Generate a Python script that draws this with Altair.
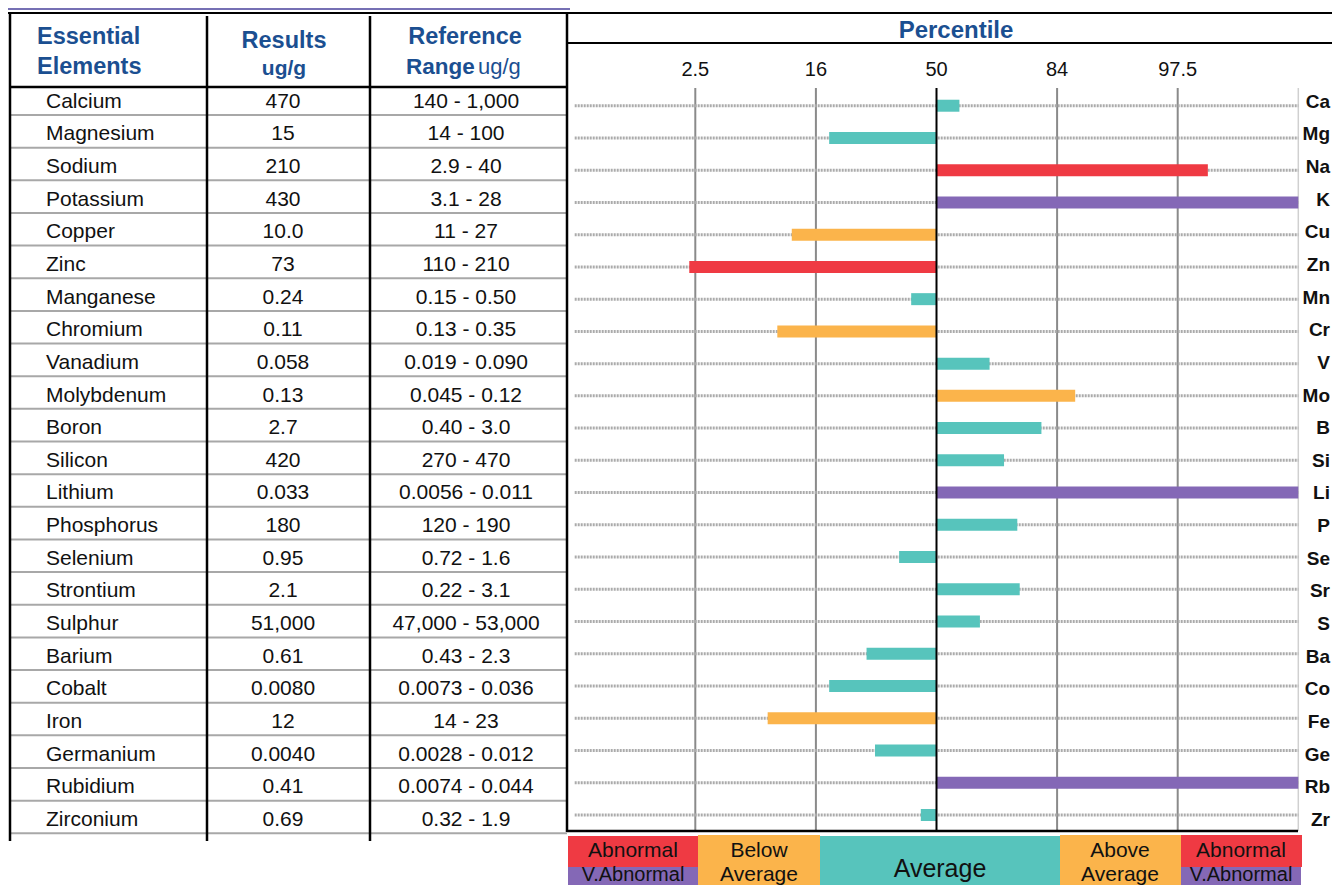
import altair as alt
import pandas as pd

# ---------------- data ----------------
elements = ["Calcium", "Magnesium", "Sodium", "Potassium", "Copper", "Zinc",
            "Manganese", "Chromium", "Vanadium", "Molybdenum", "Boron", "Silicon",
            "Lithium", "Phosphorus", "Selenium", "Strontium", "Sulphur", "Barium",
            "Cobalt", "Iron", "Germanium", "Rubidium", "Zirconium"]
symbols = ["Ca", "Mg", "Na", "K", "Cu", "Zn", "Mn", "Cr", "V", "Mo", "B", "Si",
           "Li", "P", "Se", "Sr", "S", "Ba", "Co", "Fe", "Ge", "Rb", "Zr"]
results = ["470", "15", "210", "430", "10.0", "73", "0.24", "0.11", "0.058", "0.13",
           "2.7", "420", "0.033", "180", "0.95", "2.1", "51,000", "0.61", "0.0080",
           "12", "0.0040", "0.41", "0.69"]
ref_ranges = ["140 - 1,000", "14 - 100", "2.9 - 40", "3.1 - 28", "11 - 27", "110 - 210",
              "0.15 - 0.50", "0.13 - 0.35", "0.019 - 0.090", "0.045 - 0.12", "0.40 - 3.0",
              "270 - 470", "0.0056 - 0.011", "120 - 190", "0.72 - 1.6", "0.22 - 3.1",
              "47,000 - 53,000", "0.43 - 2.3", "0.0073 - 0.036", "14 - 23",
              "0.0028 - 0.012", "0.0074 - 0.044", "0.32 - 1.9"]
# bar end, in standard deviations from the 50th percentile (axis: 2.5/16/50/84/97.5)
percentile_sd = [0.19, -0.89, 2.25, 3.0, -1.20, -2.05, -0.21, -1.32, 0.44, 1.15,
                 0.87, 0.56, 3.0, 0.67, -0.31, 0.69, 0.36, -0.58, -0.89, -1.40,
                 -0.51, 3.0, -0.13]
tick_sd = [-2, -1, 0, 1, 2]
tick_labels = ["2.5", "16", "50", "84", "97.5"]
status_names = ["Average", "Outside", "Abnormal", "V.Abnormal"]
status_colors = ["#57C4BC", "#FBB44B", "#EF3A43", "#8468B6"]

HEAD_ELEM = ["Essential", "Elements"]
HEAD_RES = ["Results", "ug/g"]
HEAD_REF = ["Reference", "Range", "ug/g"]
HEAD_PCT = "Percentile"
LEGEND = [("Abnormal", "V.Abnormal"), ("Below", "Average"), ("Average",),
          ("Above", "Average"), ("Abnormal", "V.Abnormal")]


def status(v):
    a = abs(v)
    if a >= 3:
        return "V.Abnormal"
    if a >= 2:
        return "Abnormal"
    if a >= 1:
        return "Outside"
    return "Average"


df = pd.DataFrame({"element": elements, "symbol": symbols, "result": results,
                   "ref": ref_ranges, "sd": percentile_sd,
                   "status": [status(v) for v in percentile_sd]})
ticks = pd.DataFrame({"sd": tick_sd, "label": tick_labels})
dummy = pd.DataFrame({"a": [0]})

# ---------------- styling ----------------
FONT = "Liberation Sans"
BLUE = "#1B4F91"
PURPLE_BAR = "#7670B4"
W, H = 1324, 877

XS = alt.Scale(domain=[-3, 3], range=[566.7, 1290.3])
YT = alt.Scale(domain=elements, range=[74.35, 825.3], paddingInner=0, paddingOuter=0)
YB = alt.Scale(domain=elements, range=[81.6, 823.1], paddingInner=0, paddingOuter=0)
CS = alt.Scale(domain=status_names, range=status_colors)


def seg(x1, x2, y1, y2, color="#000", w=2.0):
    return alt.Chart(dummy).mark_rule(color=color, strokeWidth=w).encode(
        x=alt.value(x1), x2=alt.value(x2), y=alt.value(y1), y2=alt.value(y2))


def box(x1, x2, y1, y2, color):
    return alt.Chart(dummy).mark_rect(color=color).encode(
        x=alt.value(x1), x2=alt.value(x2), y=alt.value(y1), y2=alt.value(y2))


def label(txt, x, y, size=21, bold=False, color="#111", align="center"):
    return alt.Chart(dummy).mark_text(
        text=txt, font=FONT, fontSize=size, fontWeight="bold" if bold else "normal",
        color=color, align=align, baseline="middle").encode(x=alt.value(x), y=alt.value(y))


layers = []

# title strip (mostly cropped off at top)
layers.append(box(0, 562, 0, 2, PURPLE_BAR))

# percentile grid
layers.append(alt.Chart(ticks[ticks.sd != 0]).mark_rule(color="#8a8a8a", strokeWidth=2).encode(
    x=alt.X("sd:Q", scale=XS, axis=None), y=alt.value(80), y2=alt.value(823)))
layers.append(alt.Chart(dummy).mark_rule(color="#d0d0d0", strokeWidth=1.5).encode(
    x=alt.datum(3, type="quantitative", scale=XS, axis=None), y=alt.value(80), y2=alt.value(823)))

# dotted row guides
layers.append(alt.Chart(df).mark_rule(color="#ababab", strokeWidth=3, strokeDash=[2, 1]).encode(
    x=alt.datum(-3, type="quantitative", scale=XS, axis=None), x2=alt.datum(3),
    y=alt.Y("element:N", scale=YB, axis=None)))

# bars
layers.append(alt.Chart(df).mark_bar(size=12).encode(
    x=alt.X("sd:Q", scale=XS, axis=None), x2=alt.datum(0),
    y=alt.Y("element:N", scale=YB, axis=None),
    color=alt.Color("status:N", scale=CS, legend=None)))

# 50th percentile line
layers.append(alt.Chart(ticks[ticks.sd == 0]).mark_rule(color="#000", strokeWidth=2).encode(
    x=alt.X("sd:Q", scale=XS, axis=None), y=alt.value(80), y2=alt.value(823)))

# tick labels
layers.append(alt.Chart(ticks).mark_text(font=FONT, fontSize=20, color="#111", baseline="middle").encode(
    x=alt.X("sd:Q", scale=XS, axis=None), y=alt.value(62), text="label:N"))

# table row separators
layers.append(alt.Chart(df).mark_rule(color="#a8a8a8", strokeWidth=2).encode(
    x=alt.value(2), x2=alt.value(559),
    y=alt.Y("element:N", scale=YT, axis=None, bandPosition=1)))

# frame lines
layers += [
    seg(0, W, 5, 5, "#000", 2),            # top line
    seg(559, W, 35, 35, "#000", 2),        # under Percentile
    seg(2, 559, 79, 79, "#000", 2.5),      # under table header
    seg(559, 1290, 823, 823, "#000", 2.5), # bottom of percentile area
    seg(2, 2, 5, 833, "#000", 2.5),
    seg(199, 199, 8, 833, "#000", 2.5),
    seg(362, 362, 8, 833, "#000", 2.5),
    seg(559, 559, 5, 824, "#000", 2.5),
]

# table text
layers.append(alt.Chart(df).mark_text(font=FONT, fontSize=21, color="#111", align="left",
                                      baseline="middle", dy=3).encode(
    x=alt.value(38), y=alt.Y("element:N", scale=YT, axis=None), text="element:N"))
layers.append(alt.Chart(df).mark_text(font=FONT, fontSize=21, color="#111", align="center",
                                      baseline="middle", dy=3).encode(
    x=alt.value(275), y=alt.Y("element:N", scale=YT, axis=None), text="result:N"))
layers.append(alt.Chart(df).mark_text(font=FONT, fontSize=21, color="#111", align="center",
                                      baseline="middle", dy=3).encode(
    x=alt.value(458), y=alt.Y("element:N", scale=YT, axis=None), text="ref:N"))
layers.append(alt.Chart(df).mark_text(font=FONT, fontSize=19, fontWeight="bold", color="#111",
                                      align="right", baseline="middle", dy=3).encode(
    x=alt.value(1322), y=alt.Y("element:N", scale=YT, axis=None), text="symbol:N"))

# headers
layers += [
    label(HEAD_ELEM[0], 29, 29, 23.5, True, BLUE, "left"),
    label(HEAD_ELEM[1], 29, 59, 23.5, True, BLUE, "left"),
    label(HEAD_RES[0], 276, 33, 23.5, True, BLUE),
    label(HEAD_RES[1], 276, 61, 21, True, BLUE),
    label(HEAD_REF[0], 457, 29, 23.5, True, BLUE),
    label(HEAD_REF[1], 398, 59, 22.5, True, BLUE, "left"),
    label(HEAD_REF[2], 470, 59, 22, False, BLUE, "left"),
    label(HEAD_PCT, 948, 23, 24, True, BLUE),
]

# legend strip
RED, ORANGE, TEAL, PURP = status_colors[2], status_colors[1], status_colors[0], status_colors[3]
layers += [
    box(560, 690, 828, 859, RED), box(560, 690, 859, H, PURP),
    box(690, 812, 827, H, ORANGE),
    box(812, 1052, 828, H, TEAL),
    box(1052, 1173, 827, H, ORANGE),
    box(1173, 1294, 827, 859, RED), box(1173, 1293, 859, H, PURP),
    label(LEGEND[0][0], 625, 843), label(LEGEND[0][1], 625, 867, 20),
    label(LEGEND[1][0], 751, 843), label(LEGEND[1][1], 751, 867),
    label(LEGEND[2][0], 932, 861, 25),
    label(LEGEND[3][0], 1112, 843), label(LEGEND[3][1], 1112, 867),
    label(LEGEND[4][0], 1233, 843), label(LEGEND[4][1], 1233, 867, 20),
]

chart = alt.layer(*layers).resolve_scale(y="independent").properties(
    width=W, height=H, padding=0,
    autosize=alt.AutoSizeParams(type="none"),
).configure_view(stroke=None)

chart.save("out.html", embed_options={"renderer": "svg", "actions": False})
